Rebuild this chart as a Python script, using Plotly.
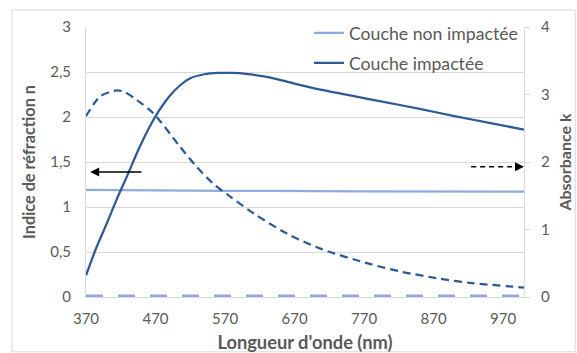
import plotly.graph_objects as go

# Wavelength (nm)
wl_dark_n = [370, 385, 400, 415, 430, 445, 460, 475, 490, 505, 520, 540, 560, 580, 600, 630, 660, 700, 750, 800, 850, 900, 950, 1000]
n_impactee = [0.24, 0.55, 0.82, 1.1, 1.36, 1.63, 1.87, 2.07, 2.23, 2.35, 2.43, 2.475, 2.49, 2.49, 2.48, 2.445, 2.39, 2.315, 2.24, 2.165, 2.09, 2.01, 1.935, 1.86]

wl_dark_k = [370, 390, 405, 415, 425, 443, 467, 505, 529, 553, 577, 611, 659, 706, 778, 826, 874, 922, 1000]
k_impactee = [2.68, 2.97, 3.04, 3.06, 3.04, 2.92, 2.72, 2.23, 1.93, 1.68, 1.49, 1.24, 0.94, 0.72, 0.49, 0.37, 0.28, 0.21, 0.14]

wl_light = [370, 570, 770, 1000]
n_non_impactee = [1.19, 1.18, 1.175, 1.17]
k_non_impactee = [0, 0, 0, 0]

x_ticks = [370, 470, 570, 670, 770, 870, 970]

DARK = "#2E5A94"
LIGHT = "#8FAADC"
GRAY = "#595959"
GRID = "#D9D9D9"
FONT = "Lato"

fig = go.Figure()

fig.add_trace(go.Scatter(x=wl_light, y=k_non_impactee, yaxis="y2", mode="lines",
                         line=dict(color=LIGHT, width=5, dash="17px,15px"),
                         showlegend=False, cliponaxis=False))
fig.add_trace(go.Scatter(x=wl_dark_k, y=k_impactee, yaxis="y2", mode="lines",
                         line=dict(color=DARK, width=2.25, dash="8px,5px", shape="spline", smoothing=0.8),
                         showlegend=False))
fig.add_trace(go.Scatter(x=wl_light, y=n_non_impactee, mode="lines",
                         line=dict(color=LIGHT, width=2.25, shape="spline"),
                         name="Couche non impactée", legendgroup="a"))
fig.add_trace(go.Scatter(x=wl_dark_n, y=n_impactee, mode="lines",
                         line=dict(color=DARK, width=2.25, shape="spline", smoothing=0.8),
                         name="Couche impactée", legendgroup="b"))

# arrows
fig.add_annotation(x=376, y=1.39, ax=452, ay=1.39, axref="x", ayref="y", xref="x", yref="y",
                   showarrow=True, arrowhead=2, arrowsize=1.2, arrowwidth=1.5, arrowcolor="black", text="")
fig.add_shape(type="line", x0=924, x1=990, y0=1.93, y1=1.93, xref="x", yref="y2",
              line=dict(color="black", width=1.5, dash="5px,4px"))
fig.add_annotation(x=1000, y=1.93, ax=-10, ay=0, xref="x", yref="y2",
                   showarrow=True, arrowhead=2, arrowsize=1.2, arrowwidth=1.5, arrowcolor="black", text="")

# outer border
fig.add_shape(type="rect", xref="paper", yref="paper", x0=-0.169, x1=1.117, y0=-0.203, y1=1.063,
              line=dict(color=GRID, width=1), fillcolor="rgba(0,0,0,0)", layer="below")

fig.update_layout(
    width=577, height=353,
    margin=dict(l=86, r=53, t=27, b=56, autoexpand=False),
    paper_bgcolor="white", plot_bgcolor="white",
    separators=", ",
    font=dict(family=FONT, color=GRAY, size=15),
    showlegend=True,
    legend=dict(x=0.509, y=1.045, xanchor="left", yanchor="top", bgcolor="rgba(255,255,255,0)",
                font=dict(size=17.7, color=GRAY), tracegroupgap=4, itemwidth=30),
    xaxis=dict(range=[370, 1000], tickvals=x_ticks, showgrid=False, zeroline=False, automargin=False,
               showline=True, linecolor=GRID, ticks="", tickfont=dict(size=15, color=GRAY),
               ticklabelstandoff=8, layer="below traces",
               title=dict(text="<b>Longueur d'onde (nm)</b>", font=dict(size=18.3, color=GRAY), standoff=12)),
    yaxis=dict(range=[0, 3], dtick=0.5, showgrid=True, gridcolor=GRID, zeroline=False, automargin=False,
               showline=True, linecolor=GRID, ticks="", tickfont=dict(size=15, color=GRAY),
               ticklabelstandoff=11, layer="below traces",
               title=dict(text="<b>Indice de réfraction n</b>", font=dict(size=16.3, color=GRAY), standoff=10)),
    yaxis2=dict(range=[0, 4], dtick=1, overlaying="y", side="right", showgrid=False, zeroline=False,
                automargin=False, layer="below traces",
                showline=True, linecolor=GRID, ticks="outside", ticklen=5, tickcolor=GRID,
                tickfont=dict(size=15, color=GRAY), ticklabelstandoff=8,
                title=dict(text="<b>Absorbance k</b>", font=dict(size=16, color=GRAY), standoff=10)),
)

fig.write_html("out.html", config={"displayModeBar": False},
               post_script="document.body.style.margin='0';document.body.style.padding='0';")
